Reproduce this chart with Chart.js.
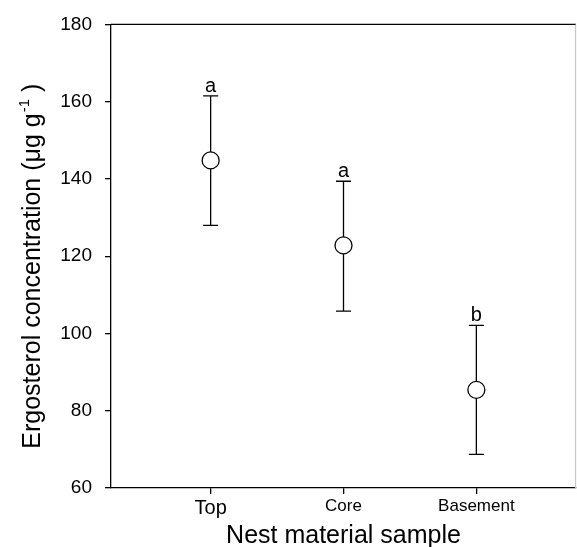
<!DOCTYPE html>
<html>
<head>
<meta charset="utf-8">
<script src="https://cdn.jsdelivr.net/npm/chart.js@4/dist/chart.umd.min.js"></script>
<style>
  html, body { margin: 0; padding: 0; background: #fff; }
  #wrap { width: 577px; height: 547px; }
</style>
</head>
<body>
<div id="wrap"><canvas id="chart"></canvas></div>
<script>
const categories = ["Top", "Core", "Basement"];
const means = [144.8, 122.8, 85.4];
const upper = [161.5, 139.4, 102.1];
const lower = [128.0, 105.8, 68.7];
const letters = ["a", "a", "b"];
const yMin = 60, yMax = 180, yStep = 20;

const FONT = "'Liberation Sans', Arial, sans-serif";

// error bars under the circles
const errorBars = {
  id: "errorBars",
  beforeDatasetsDraw(chart) {
    const { ctx, scales: { x, y } } = chart;
    ctx.save();
    ctx.strokeStyle = "#000";
    ctx.lineWidth = 1.3;
    categories.forEach((c, i) => {
      const px = x.getPixelForValue(i + 1);
      const top = y.getPixelForValue(upper[i]);
      const bot = y.getPixelForValue(lower[i]);
      ctx.beginPath();
      ctx.moveTo(px, top); ctx.lineTo(px, bot);
      ctx.moveTo(px - 7.5, top); ctx.lineTo(px + 7.5, top);
      ctx.moveTo(px - 7.5, bot); ctx.lineTo(px + 7.5, bot);
      ctx.stroke();
    });
    ctx.restore();
  },
  afterDatasetsDraw(chart) {
    const { ctx, scales: { x, y } } = chart;
    ctx.save();
    ctx.fillStyle = "#000";
    ctx.font = "20px " + FONT;
    ctx.textAlign = "center";
    ctx.textBaseline = "alphabetic";
    categories.forEach((c, i) => {
      ctx.fillText(letters[i], x.getPixelForValue(i + 1), y.getPixelForValue(upper[i]) - 4);
    });
    ctx.restore();
  }
};

// frame top/right + axis titles
const extras = {
  id: "extras",
  afterDraw(chart) {
    const { ctx, chartArea: a } = chart;
    ctx.save();
    ctx.lineWidth = 1.3;
    ctx.strokeStyle = "#000";
    ctx.beginPath();
    ctx.moveTo(a.left, a.top); ctx.lineTo(a.right, a.top);
    ctx.stroke();
    ctx.strokeStyle = "#c8c8c8";
    ctx.beginPath();
    ctx.moveTo(a.right - 0.5, a.top); ctx.lineTo(a.right - 0.5, a.bottom);
    ctx.stroke();

    ctx.fillStyle = "#000";
    ctx.textBaseline = "alphabetic";
    ctx.textAlign = "center";
    ctx.font = "25px " + FONT;
    ctx.fillText("Nest material sample", (a.left + a.right) / 2, 543);

    // y title with superscript
    const main = "Ergosterol concentration (\u03bcg g";
    const sup = "-1";
    const tail = " )";
    ctx.textAlign = "left";
    ctx.font = "25px " + FONT;
    const w1 = ctx.measureText(main).width;
    const w3 = ctx.measureText(tail).width;
    ctx.font = "15px " + FONT;
    const w2 = ctx.measureText(sup).width;
    const total = w1 + 1 + w2 + w3;
    const mid = (a.top + a.bottom) / 2 + 10;
    ctx.translate(40, mid + total / 2);
    ctx.rotate(-Math.PI / 2);
    ctx.font = "25px " + FONT;
    ctx.fillText(main, 0, 0);
    ctx.font = "15px " + FONT;
    ctx.fillText(sup, w1 + 1, -11);
    ctx.font = "25px " + FONT;
    ctx.fillText(tail, w1 + 1 + w2, 0);
    ctx.restore();
  }
};

Chart.defaults.color = "#000";
Chart.defaults.font.family = FONT;

new Chart(document.getElementById("chart"), {
  type: "scatter",
  data: {
    datasets: [{
      data: categories.map((c, i) => ({ x: i + 1, y: means[i] })),
      pointRadius: 8.5,
      pointHoverRadius: 8.5,
      pointBackgroundColor: "#fff",
      pointBorderColor: "#000",
      pointBorderWidth: 1.3
    }]
  },
  options: {
    responsive: true,
    maintainAspectRatio: false,
    animation: false,
    layout: { autoPadding: false, padding: { left: 0, top: 22, right: 1, bottom: 0 } },
    plugins: { legend: { display: false }, tooltip: { enabled: false } },
    scales: {
      x: {
        type: "linear",
        min: 0.25,
        max: 3.75,
        afterBuildTicks(scale) {
          scale.ticks = categories.map((c, i) => ({ value: i + 1 }));
        },
        afterFit(scale) { scale.height = 59; },
        grid: { drawOnChartArea: false, drawTicks: true, tickLength: 6, color: "#000", lineWidth: 1.3 },
        border: { display: true, color: "#000", width: 1.3 },
        ticks: {
          padding: 2,
          maxRotation: 0,
          callback: (v) => categories[Math.round(v) - 1],
          font: (ctx) => ({ size: ctx.index === 0 ? 20 : 17, family: FONT })
        }
      },
      y: {
        min: yMin,
        max: yMax,
        afterFit(scale) { scale.width = 111; },
        grid: { drawOnChartArea: false, drawTicks: true, tickLength: 6, color: "#000", lineWidth: 1.3 },
        border: { display: true, color: "#000", width: 1.3 },
        ticks: { stepSize: yStep, padding: 13, font: { size: 19 } }
      }
    }
  },
  plugins: [errorBars, extras]
});
</script>
</body>
</html>
